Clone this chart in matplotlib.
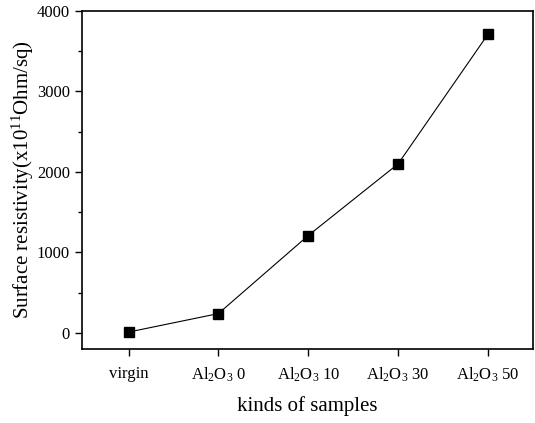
import matplotlib
matplotlib.use('Agg')
import matplotlib.pyplot as plt
from matplotlib.ticker import MultipleLocator

plt.rcParams['font.family'] = ['Liberation Serif', 'DejaVu Serif']
plt.rcParams['mathtext.fontset'] = 'custom'
plt.rcParams['mathtext.rm'] = 'Liberation Serif'
plt.rcParams['mathtext.it'] = 'Liberation Serif:italic'

samples = ['virgin', 'Al$_2$O$_3$ 0', 'Al$_2$O$_3$ 10', 'Al$_2$O$_3$ 30', 'Al$_2$O$_3$ 50']
resistivity = [10, 240, 1210, 2100, 3710]

fig = plt.figure(figsize=(5.35, 4.23), dpi=100)
ax = fig.add_axes([0.153, 0.175, 0.843, 0.799])
x = list(range(len(samples)))
ax.plot(x, resistivity, color='black', lw=0.8, marker='s', ms=6.5, mfc='black', mec='black')

ax.set_xlim(-0.52, 4.5)
ax.set_ylim(-200, 4000)
ax.set_xticks(x)
ax.set_xticklabels(samples, fontsize=12)
ax.yaxis.set_major_locator(MultipleLocator(1000))
ax.yaxis.set_minor_locator(MultipleLocator(500))
ax.tick_params(axis='both', direction='out', length=5, width=1, labelsize=12)
ax.tick_params(axis='y', which='minor', direction='out', length=3, width=1)
ax.tick_params(axis='x', pad=7)
for s in ax.spines.values():
    s.set_linewidth(1.2)

ax.set_ylabel('Surface resistivity(x10$^{11}$Ohm/sq)', fontsize=15, labelpad=1)
ax.set_xlabel('kinds of samples', fontsize=15, labelpad=9)

fig.savefig('out.png', dpi=100)
